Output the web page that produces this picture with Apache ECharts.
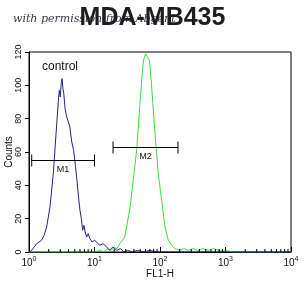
<!DOCTYPE html>
<html>
<head>
<meta charset="utf-8">
<script src="https://cdn.jsdelivr.net/npm/echarts@6/dist/echarts.min.js"></script>
<style>
  html, body { margin: 0; padding: 0; background: #fff; }
  #chart { width: 305px; height: 296px; }
</style>
</head>
<body>
<div id="chart"></div>
<script>
// control histogram (blue) - FL1-H value / counts
var controlX = [1, 1.1, 1.2, 1.31, 1.4, 1.55, 1.7, 1.86, 2.09, 2.35, 2.65, 2.8, 2.9, 3.0, 3.1, 3.2, 3.3, 3.4, 3.55, 3.76, 4.0, 4.2, 4.5, 4.8, 5.1, 5.4, 5.7, 6.0, 6.3, 6.6, 6.9, 7.2, 7.6, 8.0, 8.5, 9.2, 10.0, 10.8, 12, 13.5, 15.4, 17, 19, 22, 25, 28, 32, 38, 45, 55, 70, 90, 10000];
var controlY = [0, 1, 3, 5, 4, 7, 10, 15, 27, 47, 77, 90, 97, 93, 101, 104, 98, 95, 86, 81, 78, 75, 66, 61, 52, 43, 33, 25, 20, 13, 16, 12, 9, 11, 8, 6, 7, 6, 4, 5, 3, 1, 3, 1, 2, 0, 1, 0, 1, 0, 1, 0, 0];
// sample histogram (green)
var sampleX = [1, 10, 12, 14, 16, 18, 20, 22, 24.5, 29, 35, 39, 44, 49, 53, 56, 60, 64, 69, 74, 84, 94, 106, 119, 134, 151, 170, 200, 230, 270, 320, 380, 450, 550, 650, 800, 1000, 1300, 10000];
var sampleY = [0, 0, 1, 0, 2, 1, 3, 2, 5, 9, 27, 43, 61, 87, 105, 115, 119, 120, 115, 101, 71, 47, 31, 15, 7, 4, 2, 1, 2, 1, 2, 1, 2, 1, 2, 1, 1, 0, 0];
// gates
var gateNames = ["M1", "M2"];
var gateFrom = [1.1, 19.2];
var gateTo = [10, 188];
var gateLevel = [55, 63];
// x axis decades
var decadeExp = [0, 1, 2, 3, 4];

function pairs(xs, ys) {
  return xs.map(function (x, i) { return [x, ys[i]]; });
}

var minorTicks = [];
for (var d = 0; d < decadeExp.length - 1; d++) {
  for (var m = 2; m <= 9; m++) minorTicks.push([m * Math.pow(10, decadeExp[d]), 0]);
}

var chart = echarts.init(document.getElementById("chart"));
var option = {
  backgroundColor: "#fff",
  animation: false,
  title: [
    {
      text: "with permission from Abgent",
      left: 8, top: 9,
      textStyle: { fontFamily: "DejaVu Serif", fontStyle: "italic", fontWeight: "normal", fontSize: 11, color: "#3a3a4a" }
    },
    {
      text: "MDA-MB435",
      left: "center", top: 1,
      textStyle: { fontFamily: "Liberation Sans", fontWeight: "bold", fontSize: 25, color: "#1e1e1e" }
    }
  ],
  graphic: [
    { type: "text", left: 42, top: 61, style: { text: "control", fontFamily: "Liberation Sans", fontSize: 12, fill: "#111" } }
  ],
  grid: { left: 29, right: 14, top: 52, bottom: 44, show: true, borderColor: "#000", borderWidth: 1, outerBoundsMode: "none", containLabel: false },
  xAxis: {
    type: "log", logBase: 10, min: 1, max: 10000,
    name: "FL1-H", nameLocation: "middle", nameGap: 17, nameMoveOverlap: false,
    nameTextStyle: { fontFamily: "Liberation Sans", fontSize: 10, color: "#111" },
    axisLine: { lineStyle: { color: "#000" } },
    axisTick: { inside: true, length: 5, lineStyle: { color: "#000" } },
    splitLine: { show: false },
    axisLabel: {
      margin: 4,
      formatter: function (v) {
        var e = Math.round(Math.log10(v));
        return "{b|10}{s|" + e + "}";
      },
      rich: {
        b: { fontFamily: "Liberation Sans", fontSize: 10, color: "#111" },
        s: { fontFamily: "Liberation Sans", fontSize: 7, color: "#111", padding: [0, 0, 8, 0] }
      }
    }
  },
  yAxis: {
    type: "value", min: 0, max: 120, interval: 20,
    name: "Counts", nameLocation: "middle", nameGap: 15, nameRotate: 90, nameMoveOverlap: false,
    nameTextStyle: { fontFamily: "Liberation Sans", fontSize: 10, color: "#111" },
    axisLine: { show: true, lineStyle: { color: "#000" } },
    axisTick: { show: true, length: 4, lineStyle: { color: "#000" } },
    splitLine: { show: false },
    axisLabel: { rotate: 90, margin: 6, fontFamily: "Liberation Sans", fontSize: 9, color: "#111" }
  },
  series: [
    {
      type: "line", data: pairs(sampleX, sampleY), symbol: "none",
      lineStyle: { color: "#3fdc3f", width: 1 }, z: 3
    },
    {
      type: "line", data: pairs(controlX, controlY), symbol: "none",
      lineStyle: { color: "#23238a", width: 1 }, z: 4
    },
    {
      type: "custom", data: minorTicks, silent: true, z: 5,
      renderItem: function (params, api) {
        var p = api.coord([api.value(0), 0]);
        return { type: "line", shape: { x1: p[0], y1: p[1], x2: p[0], y2: p[1] - 3 }, style: { stroke: "#000", lineWidth: 1 } };
      }
    },
    {
      type: "custom", silent: true, z: 6,
      data: gateNames.map(function (n, i) { return [gateFrom[i], gateTo[i], gateLevel[i]]; }),
      renderItem: function (params, api) {
        var a = api.coord([api.value(0), api.value(2)]);
        var b = api.coord([api.value(1), api.value(2)]);
        var y = Math.round(a[1]) + 0.5;
        return {
          type: "group",
          children: [
            { type: "line", shape: { x1: a[0], y1: y, x2: b[0], y2: y }, style: { stroke: "#000", lineWidth: 1 } },
            { type: "line", shape: { x1: a[0], y1: y - 6, x2: a[0], y2: y + 6 }, style: { stroke: "#000", lineWidth: 1 } },
            { type: "line", shape: { x1: b[0], y1: y - 6, x2: b[0], y2: y + 6 }, style: { stroke: "#000", lineWidth: 1 } },
            { type: "text", style: { text: gateNames[params.dataIndex], x: (a[0] + b[0]) / 2, y: y + 5, align: "center", verticalAlign: "top", fontFamily: "Liberation Sans", fontSize: 9, fill: "#111" } }
          ]
        };
      }
    }
  ]
};
chart.setOption(option, true);
</script>
</body>
</html>
